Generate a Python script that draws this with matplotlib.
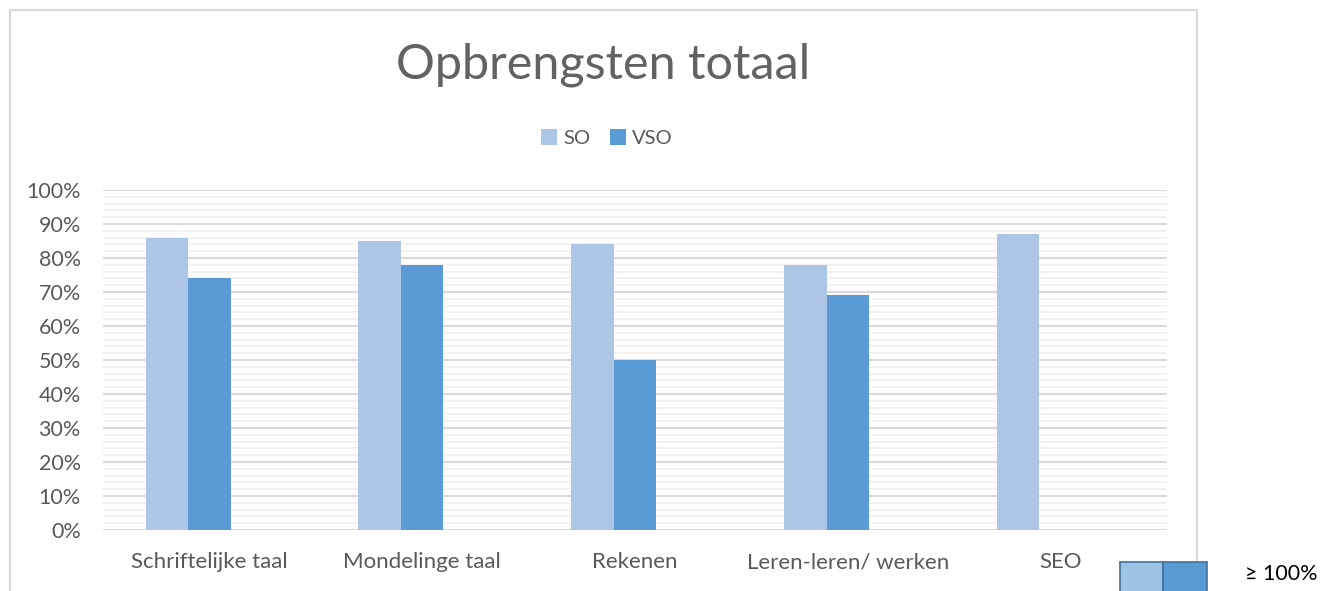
import numpy as np
import matplotlib.pyplot as plt
from matplotlib.patches import Rectangle
from matplotlib.ticker import MultipleLocator, PercentFormatter

# data
categories = ['Schriftelijke taal', 'Mondelinge taal', 'Rekenen',
              'Leren-leren/ werken', 'SEO']
so_values = [86, 85, 84, 78, 87]
vso_values = [74, 78, 50, 69, np.nan]

c_so = '#aec6e6'
c_vso = '#5b9bd5'
txt = '#595959'

plt.rcParams['font.family'] = ['Lato', 'DejaVu Sans']

fig = plt.figure(figsize=(13.33, 5.91), dpi=100)
ax = fig.add_axes([103 / 1333, 1 - 530 / 591, (1167 - 103) / 1333, 340 / 591])

x = np.arange(len(categories))
w = 0.2
ax.bar(x - w, so_values, w, color=c_so, label='SO', zorder=3)
ax.bar(x, vso_values, w, color=c_vso, label='VSO', zorder=3)

ax.set_xlim(-0.5, len(categories) - 0.5)
ax.set_ylim(0, 100)
ax.yaxis.set_major_locator(MultipleLocator(10))
ax.yaxis.set_minor_locator(MultipleLocator(2))
ax.yaxis.set_major_formatter(PercentFormatter(decimals=0))
ax.grid(axis='y', which='major', color='#d9d9d9', lw=1.5, zorder=0)
ax.grid(axis='y', which='minor', color='#f0f0f0', lw=1.2, zorder=0)
ax.set_xticks(x, categories)
for s in ax.spines.values():
    s.set_visible(False)
ax.tick_params(axis='y', which='both', length=0, colors=txt, labelsize=15.5, pad=16)
ax.tick_params(axis='x', which='both', length=0, colors=txt, labelsize=16, pad=16)

fig.text(603 / 1333, 1 - 65 / 591, 'Opbrengsten totaal', ha='center',
         va='center', fontsize=35, color='#626262')
ax.legend(loc='center', bbox_to_anchor=(607 / 1333, 1 - 138 / 591),
          bbox_transform=fig.transFigure, ncol=2, frameon=False,
          fontsize=14.5, labelcolor=txt, handlelength=0.8, handleheight=0.8,
          handletextpad=0.3, columnspacing=1.0)

# chart frame
fig.patches.append(Rectangle((10 / 1333, -0.1), 1187 / 1333, 1.1 - 10 / 591,
                             transform=fig.transFigure, fill=False,
                             ec='#d9d9d9', lw=1.5))
# small key at bottom right
fig.patches.append(Rectangle((1120 / 1333, -0.05), 43 / 1333, 0.05 + 29 / 591,
                             transform=fig.transFigure, fc='#9dc3e6',
                             ec='#41719c', lw=1.2))
fig.patches.append(Rectangle((1163 / 1333, -0.05), 44 / 1333, 0.05 + 29 / 591,
                             transform=fig.transFigure, fc=c_vso,
                             ec='#41719c', lw=1.2))
fig.text(1245 / 1333, 1 - 574 / 591, '≥ 100%', ha='left', va='center',
         fontsize=15.5, color='black')

fig.savefig('out.png', dpi=100)
